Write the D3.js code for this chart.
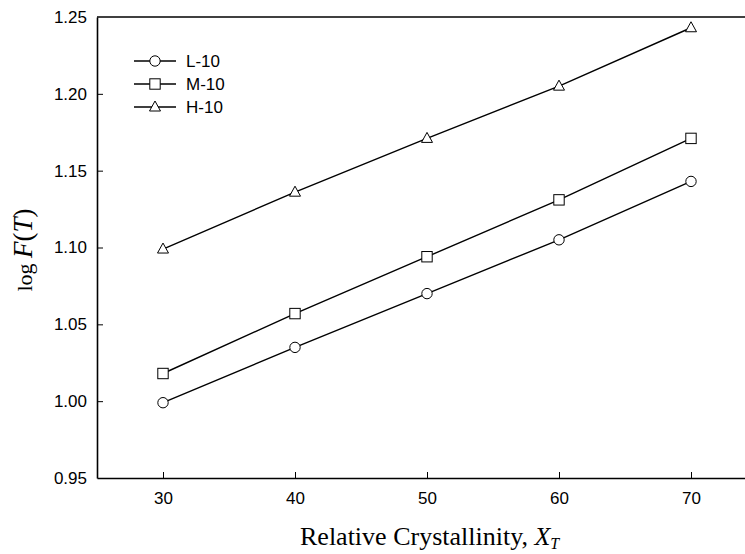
<!DOCTYPE html>
<html><head><meta charset="utf-8">
<script src="https://cdn.jsdelivr.net/npm/d3@7/dist/d3.min.js"></script>
<style>body{margin:0;background:#fff}svg{display:block}</style>
</head><body>
<svg id="c" width="745" height="554"></svg>
<script>
const xValues = [30, 40, 50, 60, 70];
const seriesNames = ["L-10", "M-10", "H-10"];
const L10 = [0.999, 1.035, 1.070, 1.105, 1.143];
const M10 = [1.018, 1.057, 1.094, 1.131, 1.171];
const H10 = [1.099, 1.136, 1.171, 1.205, 1.243];
const xTicks = [30, 40, 50, 60, 70];
const yTicks = [0.95, 1.00, 1.05, 1.10, 1.15, 1.20, 1.25];
const symbols = ["circle", "square", "triangle"];

const series = [L10, M10, H10].map((v, i) => ({name: seriesNames[i], sym: symbols[i], values: v}));

const svg = d3.select("#c");
const pL = 97, pR = 757, pT = 17, pB = 478;
const x = d3.scaleLinear().domain([25, 75]).range([pL, pR]);
const y = d3.scaleLinear().domain([0.95, 1.25]).range([pB, pT]);
const sans = "Liberation Sans, Arial, sans-serif";
const serif = "Liberation Serif, Times New Roman, serif";

// axes
const xAxis = svg.append("g").attr("transform", `translate(0,${pB})`)
  .call(d3.axisBottom(x).tickValues(xTicks).tickSizeInner(-6).tickSizeOuter(0).tickPadding(14).tickFormat(d3.format("d")));
const yAxis = svg.append("g").attr("transform", `translate(${pL},0)`)
  .call(d3.axisLeft(y).tickValues(yTicks).tickSizeInner(-6).tickSizeOuter(0).tickPadding(10).tickFormat(d3.format(".2f")));
[xAxis, yAxis].forEach(g => {
  g.selectAll("text").attr("font-family", sans).attr("font-size", 17).attr("fill", "#000");
  g.selectAll(".tick line").attr("stroke", "#000").attr("stroke-width", 1);
  g.select(".domain").attr("stroke", "#000").attr("stroke-width", 1.6);
});
yAxis.selectAll(".tick").filter(d => d === 0.95 || d === 1.25).select("line").remove();
// top frame
svg.append("line").attr("x1", pL).attr("x2", pR).attr("y1", y(1.25)).attr("y2", y(1.25))
  .attr("stroke", "#000").attr("stroke-width", 1.6);

function drawSym(g, sym, cx, cy) {
  if (sym === "circle") {
    g.append("circle").attr("cx", cx).attr("cy", cy).attr("r", 5.2);
  } else if (sym === "square") {
    g.append("rect").attr("x", cx - 5.2).attr("y", cy - 5.2).attr("width", 10.4).attr("height", 10.4);
  } else {
    const h = 10, w = 11;
    g.append("path").attr("d", `M${cx},${cy - h*0.6}L${cx + w/2},${cy + h*0.4}L${cx - w/2},${cy + h*0.4}Z`);
  }
}

const line = d3.line().x((d, i) => x(xValues[i])).y(d => y(d));
series.forEach(s => {
  svg.append("path").attr("d", line(s.values)).attr("fill", "none").attr("stroke", "#000").attr("stroke-width", 1.4);
  const g = svg.append("g").attr("fill", "#fff").attr("stroke", "#000").attr("stroke-width", 1);
  s.values.forEach((v, i) => drawSym(g, s.sym, x(xValues[i]), y(v)));
});

// legend
const legY = [61, 84, 107];
series.forEach((s, i) => {
  const ly = legY[i];
  svg.append("line").attr("x1", 134).attr("x2", 176).attr("y1", ly).attr("y2", ly).attr("stroke", "#000").attr("stroke-width", 1.4);
  const g = svg.append("g").attr("fill", "#fff").attr("stroke", "#000").attr("stroke-width", 1);
  drawSym(g, s.sym, 155, ly);
  svg.append("text").attr("x", 186).attr("y", ly + 6).text(s.name)
    .attr("font-family", sans).attr("font-size", 17);
});

// axis titles
const xt = svg.append("text").attr("x", 300).attr("y", 545)
  .attr("font-family", serif).attr("font-size", 26);
xt.append("tspan").text("Relative Crystallinity, ");
xt.append("tspan").attr("font-style", "italic").text("X");
xt.append("tspan").attr("font-style", "italic").attr("font-size", 16).attr("dy", 4).text("T");

const yt = svg.append("text").attr("transform", `translate(32,250) rotate(-90)`).attr("text-anchor", "middle")
  .attr("font-family", serif).attr("font-size", 22);
yt.append("tspan").text("log ");
yt.append("tspan").attr("font-style", "italic").attr("font-size", 27).text("F");
yt.append("tspan").attr("font-size", 27).text("(");
yt.append("tspan").attr("font-style", "italic").attr("font-size", 27).text("T");
yt.append("tspan").attr("font-size", 27).text(")");
</script>
</body></html>
